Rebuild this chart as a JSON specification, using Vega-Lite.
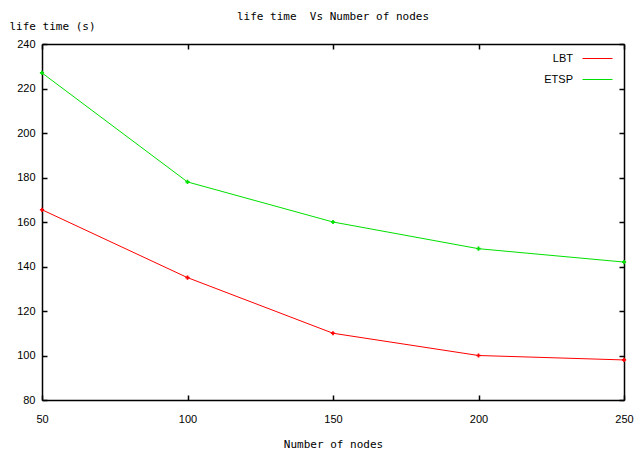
{
  "$schema": "https://vega.github.io/schema/vega-lite/v6.json",
  "width": 582,
  "height": 356,
  "autosize": "none",
  "padding": {"left": 42, "top": 44, "right": 13, "bottom": 50},
  "background": "white",
  "title": {
    "text": "life time\u00a0 Vs Number of nodes",
    "font": "DejaVu Sans Mono",
    "fontSize": 11,
    "fontWeight": "normal",
    "color": "black",
    "anchor": "middle",
    "offset": -2
  },
  "data": {
    "values": [
      {"nodes": 50, "series": "LBT", "life": 165.5},
      {"nodes": 100, "series": "LBT", "life": 135},
      {"nodes": 150, "series": "LBT", "life": 110},
      {"nodes": 200, "series": "LBT", "life": 100},
      {"nodes": 250, "series": "LBT", "life": 98},
      {"nodes": 50, "series": "ETSP", "life": 227},
      {"nodes": 100, "series": "ETSP", "life": 178},
      {"nodes": 150, "series": "ETSP", "life": 160},
      {"nodes": 200, "series": "ETSP", "life": 148},
      {"nodes": 250, "series": "ETSP", "life": 142}
    ]
  },
  "config": {
    "view": {"stroke": null},
    "axis": {
      "domainColor": "black",
      "domainWidth": 1.5,
      "tickColor": "black",
      "tickWidth": 1.5,
      "tickSize": -5,
      "grid": false,
      "labelFont": "Liberation Sans",
      "labelFontSize": 11,
      "labelColor": "black",
      "titleFont": "DejaVu Sans Mono",
      "titleFontSize": 11,
      "titleFontWeight": "normal",
      "titleColor": "black"
    }
  },
  "layer": [
    {
      "mark": {"type": "line", "strokeWidth": 1, "point": {"shape": "cross", "size": 18}},
      "encoding": {
        "x": {
          "field": "nodes", "type": "quantitative",
          "scale": {"domain": [50, 250], "nice": false, "zero": false},
          "axis": {"values": [50, 100, 150, 200, 250], "title": "Number of nodes", "labelPadding": 18, "titlePadding": 14, "orient": "bottom", "labelFlush": false}
        },
        "y": {
          "field": "life", "type": "quantitative",
          "scale": {"domain": [80, 240], "nice": false, "zero": false},
          "axis": {"values": [80, 100, 120, 140, 160, 180, 200, 220, 240], "title": "life time (s)", "titleAngle": 0, "titleAlign": "left", "titleBaseline": "middle", "titleX": -33, "titleY": -18, "labelPadding": 12, "orient": "left"}
        },
        "color": {
          "field": "series", "type": "nominal",
          "scale": {"domain": ["LBT", "ETSP"], "range": ["#ff0000", "#00e000"]},
          "legend": {
            "title": null,
            "orient": "none",
            "legendX": 540,
            "legendY": -1,
            "symbolType": "stroke",
            "symbolSize": 900,
            "symbolStrokeWidth": 1,
            "labelAlign": "right",
            "labelOffset": -40,
            "labelFont": "Liberation Sans",
            "labelFontSize": 11,
            "labelColor": "black",
            "rowPadding": -13
          }
        }
      }
    },
    {
      "mark": {"type": "line", "opacity": 0},
      "encoding": {
        "x": {"field": "nodes", "type": "quantitative", "axis": {"orient": "top", "values": [50, 100, 150, 200, 250], "labels": false, "title": null}},
        "y": {"field": "life", "type": "quantitative", "axis": {"orient": "right", "values": [80, 100, 120, 140, 160, 180, 200, 220, 240], "labels": false, "title": null}},
        "detail": {"field": "series"}
      }
    }
  ],
  "resolve": {"axis": {"x": "independent", "y": "independent"}}
}
